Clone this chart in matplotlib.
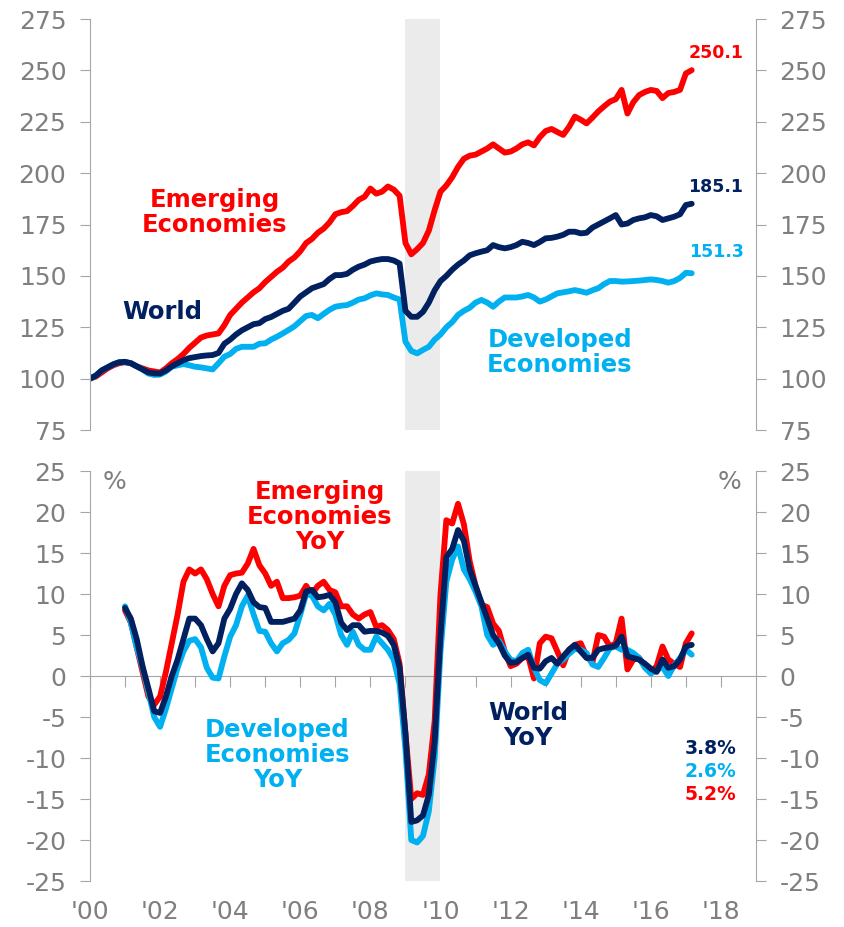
import numpy as np
import matplotlib.pyplot as plt

plt.rcParams['axes.unicode_minus'] = False

RED = '#FF0000'
NAVY = '#002060'
BLUE = '#00B0F0'
GREY = '#7F7F7F'
SPINE = '#A6A6A6'
SHADE = '#EBEBEB'

# index levels (2000 = 100), one value every two months from Jan 2000
em_idx = [100, 101, 103, 105, 106.5, 107.5,
          108, 107.5, 106, 105, 104, 103.5,
          103, 105, 107.5, 109.5, 112, 115,
          117.5, 120, 121, 121.5, 122, 126,
          131, 134, 137, 139.5, 142, 144,
          147, 149.5, 152, 154, 157, 159,
          162, 166, 168, 171, 173, 176,
          180, 181, 181.5, 184, 187, 188.5,
          192.5, 190, 191, 193.5, 192, 189,
          166, 160.5, 163, 166, 172, 182,
          191, 194, 198, 203, 207, 208.5,
          209, 210.5, 212, 214, 212, 210,
          210.5, 212, 214, 215, 213.5, 217.5,
          220.5, 221.5, 220, 218.6, 222.5, 227.5,
          226, 224.2, 227, 230, 232.5, 234.8,
          236, 240.5, 229, 234.5, 238, 239.5,
          240.5, 240, 236.5, 239, 239.5, 240.5,
          248.5, 250.1]
wd_idx = [100, 101.5, 104, 105.5, 107, 108,
          108.2, 107.5, 106, 104.5, 103, 102.6,
          102.5, 104, 106, 107.5, 109, 110,
          110.5, 111, 111.3, 111.5, 112.5, 117,
          119, 121.5, 123.5, 125, 126.5, 127,
          129, 130, 131.5, 133, 134, 137,
          140, 142, 144, 145, 146, 148.5,
          150.4, 150.4, 151, 153, 154.5, 155.5,
          157, 157.7, 158.2, 158.2, 157.5, 156,
          133, 130.1, 130.1, 132.5, 137, 143,
          147.5, 150, 153, 155.5, 157.5, 160,
          161, 161.8, 162.5, 165, 164, 163.4,
          164, 165, 166.6, 166, 165, 166.5,
          168.3, 168.5, 169.1, 170, 171.5, 171.5,
          170.7, 171, 173.5, 175, 176.5, 178,
          179.6, 175, 175.5, 177.2, 178, 178.5,
          179.6, 179, 177.2, 178, 178.8, 180,
          184.5, 185.1]
dm_idx = [100, 101.5, 104, 105.5, 107, 108,
          108, 107.5, 106, 104.5, 102.5, 101.8,
          102, 103.5, 105.8, 106.5, 107.1, 106.5,
          105.8, 105.5, 105, 104.5, 107.5, 110.7,
          112, 114.5, 115.5, 115.5, 115.5, 117,
          117.2, 119, 120.4, 122, 123.7, 125.5,
          128, 130.5, 131, 129.4, 131.5, 133.5,
          135, 135.5, 135.8, 137, 138.5, 139.1,
          140.5, 141.5, 141, 140.7, 139.5, 138.5,
          118, 113.5, 112.3, 114, 115.5, 119,
          121.5, 125, 127.5, 131, 133, 134.5,
          137, 138.3, 137, 135, 137.5, 139.5,
          139.5, 139.5, 140, 140.7, 139.5, 137.5,
          138.5, 140, 141.5, 142, 142.5, 143.1,
          142.5, 141.8, 143, 144, 146, 147.5,
          147.5, 147.2, 147.3, 147.5, 147.7, 148,
          148.3, 148, 147.5, 146.7, 147.5, 149,
          151.5, 151.3]

# year-on-year change in %, one value every two months from Jan 2001
em_yoy = [8.0, 6.5, 3.5, 0.5, -2.5, -3.5,
          -2.5, 0.5, 4.0, 7.5, 11.5, 13.0,
          12.5, 13.0, 11.8, 10.0, 8.5, 11.0,
          12.3, 12.5, 12.6, 13.7, 15.5, 13.5,
          12.5, 11.0, 11.5, 9.5, 9.5, 9.6,
          9.8, 11.0, 10.0, 11.0, 11.5, 10.5,
          10.2, 8.5, 8.5, 7.5, 7.0, 7.5,
          7.8, 6.0, 6.2, 5.6, 4.5, 1.5,
          -7.0, -15.0, -14.3, -14.5, -12.0, -5.5,
          10.0, 19.0, 18.6, 21.0, 18.5, 14.0,
          11.0, 8.7, 8.4, 6.4, 5.5, 3.0,
          1.2, 1.5, 2.2, 2.4, -0.3, 4.0,
          4.8, 4.6, 3.0, 1.3, 3.2, 3.8,
          4.0, 2.4, 1.6, 5.0, 4.8, 3.6,
          4.0, 7.0, 0.8, 2.0, 2.2, 1.2,
          0.5, 1.2, 3.6, 2.0, 1.5, 1.1,
          4.0, 5.2]
wd_yoy = [8.3, 7.0, 4.5, 1.2, -1.5, -4.3,
          -4.5, -2.5, 0.0, 2.0, 4.5, 7.0,
          7.0, 6.2, 4.5, 3.0, 4.0, 7.0,
          8.2, 10.0, 11.3, 10.5, 9.0, 8.4,
          8.3, 6.6, 6.6, 6.6, 6.8, 7.0,
          8.0, 10.3, 10.5, 9.6, 9.7, 9.9,
          9.0, 6.5, 5.6, 6.2, 6.2, 5.4,
          5.5, 5.5, 5.3, 4.9, 3.8, 1.0,
          -7.0, -17.8, -17.6, -17.0, -14.5, -8.0,
          5.0, 14.5, 15.5, 17.8, 16.5, 13.0,
          11.0, 9.0, 7.0, 5.0, 4.0, 2.5,
          1.6, 1.7, 2.2, 2.6, 1.0, 0.9,
          1.8, 2.2, 1.5, 2.4, 3.2, 3.8,
          3.0, 2.2, 2.2, 3.2, 3.4, 3.5,
          3.7, 4.8, 2.4, 2.2, 2.0, 1.5,
          0.9, 0.5, 2.0, 1.0, 1.2, 2.0,
          3.6, 3.8]
dm_yoy = [8.5, 6.5, 3.5, 1.0, -2.0, -5.0,
          -6.2, -4.0, -1.5, 1.0, 3.0, 4.3,
          4.5, 3.5, 1.0, -0.2, -0.3, 2.4,
          4.8, 6.2, 8.5, 9.8, 7.5, 5.5,
          5.4, 4.0, 3.0, 4.0, 4.4, 5.2,
          7.5, 10.0, 9.8, 8.5, 8.0, 8.8,
          7.5, 5.0, 3.8, 5.4, 3.8, 3.2,
          3.2, 4.8, 4.0, 3.2, 2.0, -1.0,
          -9.0, -20.0, -20.3, -19.5, -16.5, -10.0,
          3.0, 11.5, 14.2, 15.8, 13.0, 11.8,
          10.3, 8.5, 5.0, 3.8, 4.3, 3.0,
          2.0, 1.8, 2.8, 3.2, 1.0, -0.5,
          -0.9, 0.3, 1.5, 2.0, 2.7, 3.3,
          3.2, 2.8, 1.4, 1.1, 2.2, 3.4,
          3.6, 3.2, 3.2, 2.8, 2.2, 1.0,
          0.3, 0.7, 1.1, 0.0, 1.3, 2.2,
          3.2, 2.6]

recession = (2009.0, 2010.0)
year_ticks = list(range(2000, 2019, 2))
year_labels = ["'%02d" % (y % 100) for y in year_ticks]

idx_dates = 2000 + np.arange(len(em_idx)) / 6
yoy_dates = 2001 + np.arange(len(em_yoy)) / 6

fig = plt.figure(figsize=(8.44, 9.27), dpi=100)
ax1 = fig.add_axes([0.1066, 0.5361, 0.7891, 0.4434])
ax2 = fig.add_axes([0.1066, 0.0496, 0.7891, 0.4423], sharex=ax1)

lw = 4.2
for ax in (ax1, ax2):
    ax.axvspan(*recession, color=SHADE, lw=0, zorder=0)
    for side in ('top', 'bottom'):
        ax.spines[side].set_visible(False)
    for side in ('left', 'right'):
        ax.spines[side].set_color(SPINE)
    ax.tick_params(axis='y', left=True, right=True, labelleft=True, labelright=True,
                   labelsize=18, labelcolor=GREY, color=SPINE, length=7, pad=10)

# top panel: levels
ax1.plot(idx_dates, em_idx, color=RED, lw=lw, solid_capstyle='round')
ax1.plot(idx_dates, dm_idx, color=BLUE, lw=lw, solid_capstyle='round')
ax1.plot(idx_dates, wd_idx, color=NAVY, lw=lw, solid_capstyle='round')
ax1.set_ylim(75, 275)
ax1.set_yticks(range(75, 276, 25))
ax1.set_xlim(2000, 2019)
ax1.tick_params(axis='x', bottom=False, labelbottom=False)

bold = dict(fontweight='bold', ha='center', va='center', linespacing=1.05)
ax1.text(2003.55, 181, 'Emerging\nEconomies', color=RED, fontsize=17.5, **bold)
ax1.text(2002.05, 132.5, 'World', color=NAVY, fontsize=17.5, **bold)
ax1.text(2013.4, 112.5, 'Developed\nEconomies', color=BLUE, fontsize=17.5, **bold)
ax1.text(2017.86, 258.5, '%.1f' % em_idx[-1], color=RED, fontsize=12.5, **bold)
ax1.text(2017.86, 193.3, '%.1f' % wd_idx[-1], color=NAVY, fontsize=12.5, **bold)
ax1.text(2017.86, 161.6, '%.1f' % dm_idx[-1], color=BLUE, fontsize=12.5, **bold)

# bottom panel: year-on-year, zero line carries yearly ticks
ax2.plot(yoy_dates, em_yoy, color=RED, lw=lw, solid_capstyle='round')
ax2.plot(yoy_dates, dm_yoy, color=BLUE, lw=lw, solid_capstyle='round')
ax2.plot(yoy_dates, wd_yoy, color=NAVY, lw=lw, solid_capstyle='round')
ax2.set_ylim(-25, 25)
ax2.set_yticks(range(-25, 26, 5))
ax2.spines['bottom'].set_visible(True)
ax2.spines['bottom'].set_position(('data', 0))
ax2.spines['bottom'].set_color(SPINE)
ax2.spines['bottom'].set_zorder(0.5)
ax2.set_xticks(range(2000, 2019))
ax2.tick_params(axis='x', bottom=True, labelbottom=False, direction='out',
                length=8, color=SPINE)

ax3 = ax2.twiny()
ax3.set_xlim(ax2.get_xlim())
for side in ax3.spines:
    ax3.spines[side].set_visible(False)
ax3.xaxis.set_ticks_position('bottom')
ax3.set_xticks(year_ticks)
ax3.set_xticklabels(year_labels)
ax3.tick_params(axis='x', top=False, bottom=False, labeltop=False, labelbottom=True,
                labelsize=18, labelcolor=GREY, pad=10)

ax2.text(2000.7, 23.6, '%', color=GREY, fontsize=18, ha='center', va='center')
ax2.text(2018.25, 23.6, '%', color=GREY, fontsize=18, ha='center', va='center')
ax2.text(2006.55, 19.4, 'Emerging\nEconomies\nYoY', color=RED, fontsize=17.5, **bold)
ax2.text(2005.35, -9.6, 'Developed\nEconomies\nYoY', color=BLUE, fontsize=17.5, **bold)
ax2.text(2012.5, -6.0, 'World\nYoY', color=NAVY, fontsize=17.5, **bold)
ax2.text(2017.7, -8.8, '%.1f%%' % wd_yoy[-1], color=NAVY, fontsize=13.5, **bold)
ax2.text(2017.7, -11.6, '%.1f%%' % dm_yoy[-1], color=BLUE, fontsize=13.5, **bold)
ax2.text(2017.7, -14.5, '%.1f%%' % em_yoy[-1], color=RED, fontsize=13.5, **bold)

fig.savefig('out.png', dpi=100)
